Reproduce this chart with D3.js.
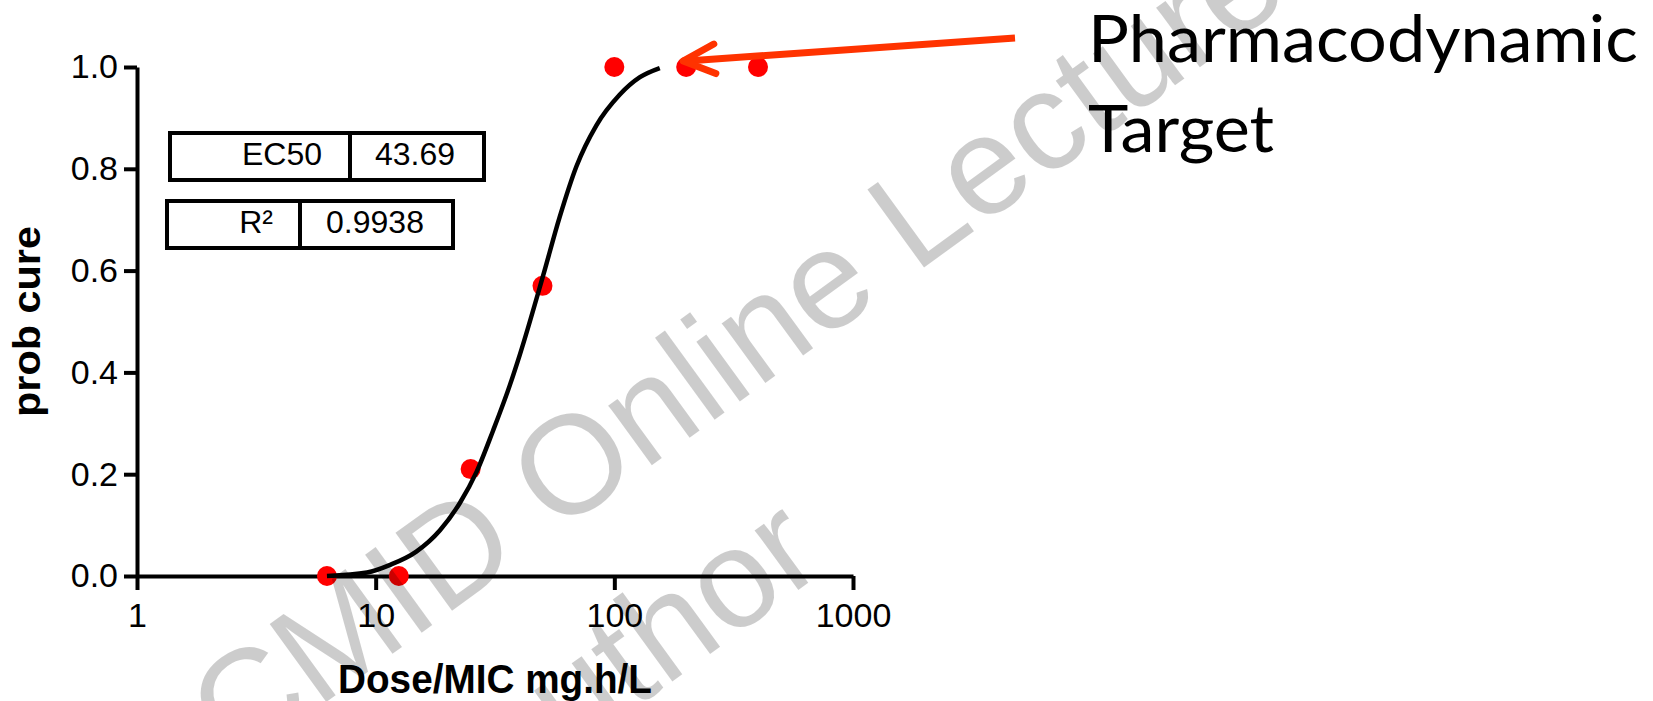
<!DOCTYPE html>
<html>
<head>
<meta charset="utf-8">
<script src="https://cdn.jsdelivr.net/npm/d3@7"></script>
<style>
  html, body { margin: 0; padding: 0; background: #fff; }
  svg { display: block; }
</style>
</head>
<body>
<div id="chart"></div>
<script>
// measured points
var doses = [6.25, 12.5, 25, 50, 100, 200, 400];
var probCure = [0, 0, 0.21, 0.57, 1, 1, 1];
// fitted curve
var fitDose = [6.25, 9.2, 11.5, 14.8, 18.6, 22.5, 26.5, 31, 36.5, 40.2, 50.3, 59, 69.4, 84, 105, 128, 155];
var fitProb = [0, 0.007, 0.022, 0.048, 0.09, 0.143, 0.205, 0.285, 0.375, 0.435, 0.59, 0.705, 0.805, 0.885, 0.945, 0.98, 0.998];
var xTicks = [1, 10, 100, 1000];
var yTicks = [0, 0.2, 0.4, 0.6, 0.8, 1.0];
var statNames = ["EC50", "R²"];
var statValues = ["43.69", "0.9938"];
var noteLines = ["Pharmacodynamic", "Target"];
var noteTarget = [200, 1];   // dose, prob the arrow points at
var watermark = ["ESCMID Online Lecture Library", "© by author"];

var W = 1653, H = 701;
var svg = d3.select("#chart").append("svg")
  .attr("width", W).attr("height", H);
svg.append("rect").attr("width", W).attr("height", H).attr("fill", "#fff");

var x = d3.scaleLog().domain([1, 1000]).range([137, 853]);
var y = d3.scaleLinear().domain([0, 1]).range([576, 67]);

var armFont = "'Liberation Sans', Arial, sans-serif";

// y axis
var gy = svg.append("g")
  .attr("transform", "translate(" + x(1) + ",0)")
  .call(d3.axisLeft(y).tickValues(yTicks).tickFormat(d3.format(".1f"))
    .tickSize(13).tickSizeOuter(0).tickPadding(6));
// x axis
var gx = svg.append("g")
  .attr("transform", "translate(0," + y(0) + ")")
  .call(d3.axisBottom(x).tickValues(xTicks).tickFormat(d3.format("d"))
    .tickSize(14).tickSizeOuter(0).tickPadding(13));

[gx, gy].forEach(function (g) {
  g.select(".domain").attr("stroke", "#000").attr("stroke-width", 4);
  g.selectAll(".tick line").attr("stroke", "#000").attr("stroke-width", 4);
  g.selectAll(".tick text")
    .attr("fill", "#000")
    .style("font-family", armFont)
    .style("font-size", "34px");
});

// axis titles
svg.append("text")
  .attr("x", (x(1) + x(1000)) / 2)
  .attr("y", 693)
  .attr("text-anchor", "middle")
  .attr("textLength", 314)
  .attr("lengthAdjust", "spacingAndGlyphs")
  .style("font-family", armFont)
  .style("font-weight", "bold")
  .style("font-size", "40px")
  .text("Dose/MIC mg.h/L");

svg.append("text")
  .attr("transform", "translate(40," + (y(0) + y(1)) / 2 + ") rotate(-90)")
  .attr("text-anchor", "middle")
  .attr("textLength", 191)
  .attr("lengthAdjust", "spacingAndGlyphs")
  .style("font-family", armFont)
  .style("font-weight", "bold")
  .style("font-size", "38px")
  .text("prob cure");

// stats boxes
var boxes = [
  { left: 170, top: 133, mid: 350, right: 484, nameEnd: 322, valMid: 415, base: 165 },
  { left: 167, top: 201, mid: 300, right: 453, nameEnd: 273, valMid: 375, base: 233 }
];
boxes.forEach(function (b, i) {
  var g = svg.append("g");
  g.append("rect")
    .attr("x", b.left).attr("y", b.top)
    .attr("width", b.right - b.left).attr("height", 47)
    .attr("fill", "none").attr("stroke", "#000").attr("stroke-width", 4);
  g.append("line")
    .attr("x1", b.mid).attr("x2", b.mid)
    .attr("y1", b.top).attr("y2", b.top + 47)
    .attr("stroke", "#000").attr("stroke-width", 4);
  g.append("text")
    .attr("x", b.nameEnd).attr("y", b.base)
    .attr("text-anchor", "end")
    .style("font-family", armFont).style("font-size", "32px")
    .text(statNames[i]);
  g.append("text")
    .attr("x", b.valMid).attr("y", b.base)
    .attr("text-anchor", "middle")
    .style("font-family", armFont).style("font-size", "32px")
    .text(statValues[i]);
});

// points
var pts = doses.map(function (d, i) { return { dose: d, p: probCure[i] }; });
svg.append("g").selectAll("circle")
  .data(pts)
  .join("circle")
  .attr("cx", function (d) { return x(d.dose); })
  .attr("cy", function (d) { return y(d.p); })
  .attr("r", 10)
  .attr("fill", "#ff0000");

// fitted curve
var fit = fitDose.map(function (d, i) { return [d, fitProb[i]]; });
svg.append("path")
  .datum(fit)
  .attr("fill", "none")
  .attr("stroke", "#000")
  .attr("stroke-width", 4.5)
  .attr("d", d3.line()
    .x(function (d) { return x(d[0]); })
    .y(function (d) { return y(d[1]); })
    .curve(d3.curveMonotoneX));

// arrow to the target
var tipX = x(noteTarget[0]) - 3, tipY = y(noteTarget[1]) - 6;
var tailX = 1015, tailY = 38;
var ang = Math.atan2(tailY - tipY, tailX - tipX);
var arm = 35, spread = 25 * Math.PI / 180;
var arrowColor = "#ff3300";
svg.append("line")
  .attr("x1", tailX).attr("y1", tailY)
  .attr("x2", tipX + 4).attr("y2", tipY)
  .attr("stroke", arrowColor).attr("stroke-width", 7);
svg.append("path")
  .attr("d", "M" + (tipX + arm * Math.cos(ang - spread)) + "," + (tipY + arm * Math.sin(ang - spread)) +
    "L" + tipX + "," + tipY +
    "L" + (tipX + arm * Math.cos(ang + spread)) + "," + (tipY + arm * Math.sin(ang + spread)))
  .attr("fill", "none")
  .attr("stroke", arrowColor).attr("stroke-width", 7)
  .attr("stroke-linecap", "round").attr("stroke-linejoin", "round");

// note text
var note = svg.append("g").style("font-family", "Lato, 'Open Sans', sans-serif")
  .style("font-size", "66px");
var noteText = note.selectAll("text")
  .data(noteLines)
  .join("text")
  .attr("x", 0)
  .attr("y", function (d, i) { return i * 90; })
  .text(function (d) { return d; });
var natural = noteText.nodes()[0].getComputedTextLength();
var sx = 550 / natural;
note.attr("transform", "translate(1088,62) scale(" + sx + ",1)");

// watermark on top
var wm = svg.append("g")
  .style("font-family", armFont)
  .style("font-size", "140px")
  .attr("fill", "#000")
  .attr("fill-opacity", 0.2);
var wmStart = [[84, 878], [241, 995]];
wm.selectAll("text")
  .data(watermark)
  .join("text")
  .attr("transform", function (d, i) {
    return "translate(" + wmStart[i][0] + "," + wmStart[i][1] + ") rotate(-36)";
  })
  .text(function (d) { return d; });
</script>
</body>
</html>
